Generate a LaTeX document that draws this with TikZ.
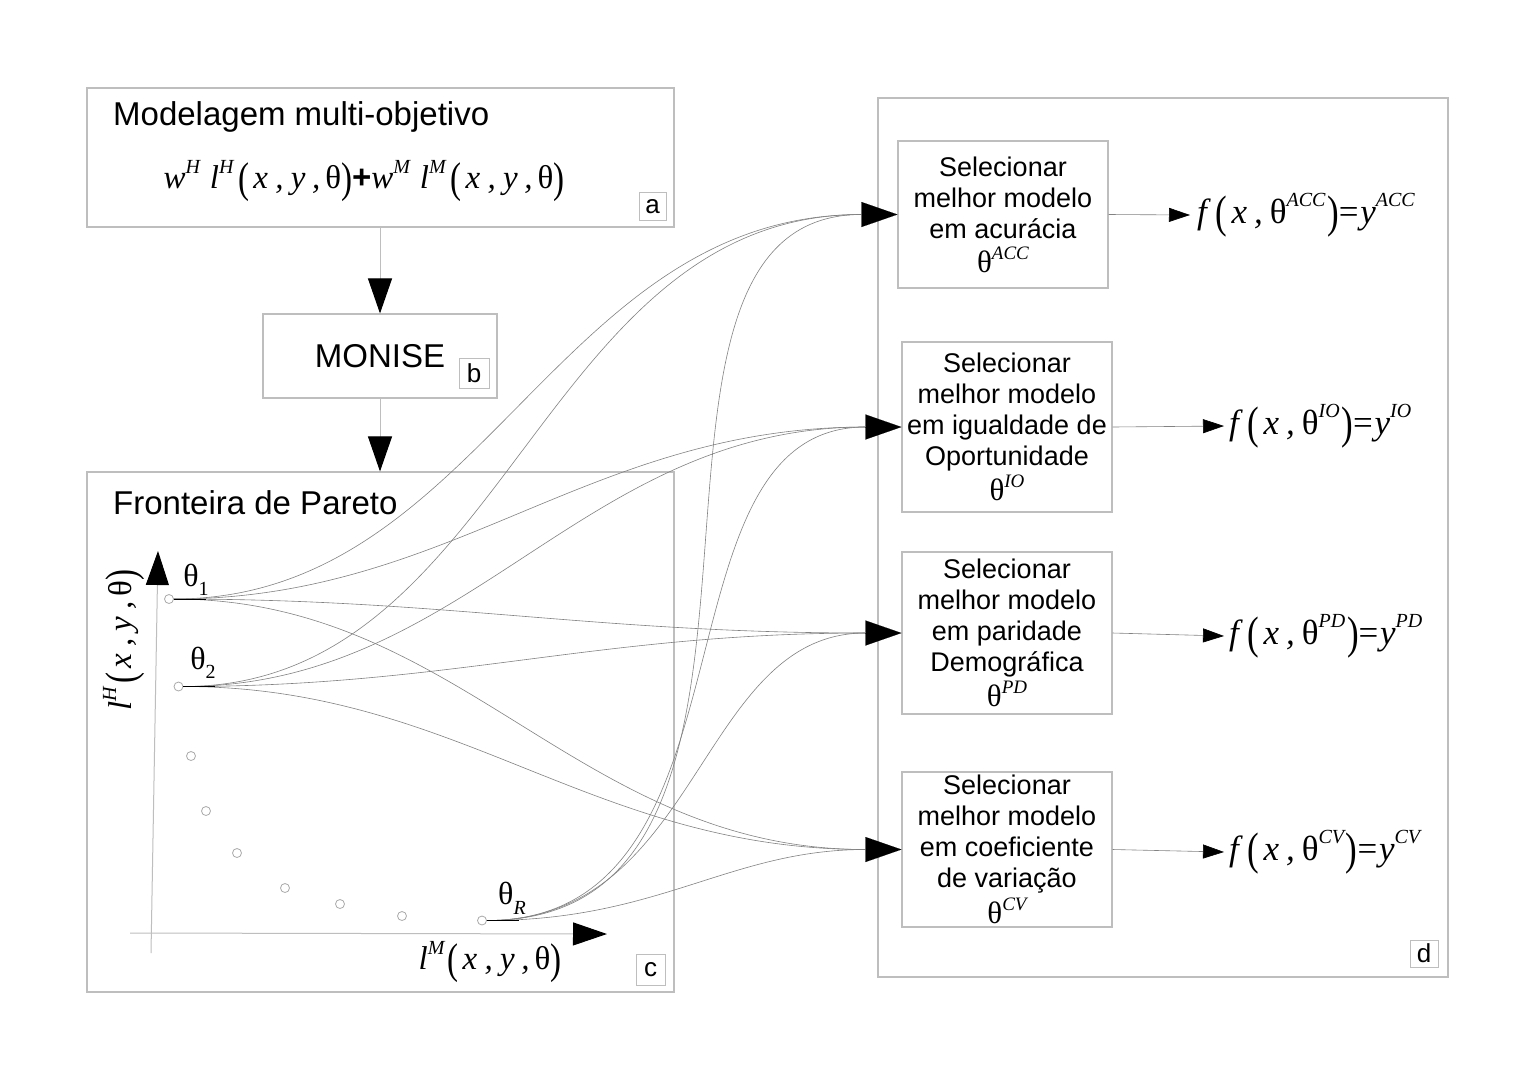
\documentclass[tikz,border=0pt]{standalone}
\usepackage{fontspec}
\setmainfont{Liberation Sans}
\newfontfamily\mf{Liberation Serif}
\usepackage{graphicx}
\usetikzlibrary{arrows.meta,calc}
\definecolor{boxgray}{RGB}{190,190,190}
\definecolor{curvegray}{RGB}{130,130,130}
\definecolor{dotgray}{RGB}{170,170,170}
\newcommand{\sps}[2][20]{\raisebox{0.48em}{\fontsize{#1}{#1}\selectfont\itshape #2}}
\newcommand{\spt}[1]{\raisebox{0.42em}{\fontsize{19}{19}\selectfont\itshape #1}}
\newcommand{\sbs}[2][20]{\raisebox{-0.3em}{\fontsize{#1}{#1}\selectfont #2}}
\newcommand{\lp}{\raisebox{-0.12em}{\scalebox{1}[1.3]{\upshape(}}}
\newcommand{\rp}{\raisebox{-0.12em}{\scalebox{1}[1.3]{\upshape)}}}
\newcommand{\thup}{{\upshape θ}}
\newcommand{\args}{\lp\kern0.12em x\kern0.22em,\kern0.22em y\kern0.2em,\kern0.15em\thup\rp}
\newcommand{\fout}[1]{{\mf\fontsize{35}{35}\selectfont\itshape f\kern0.25em\lp\kern0.12em x\kern0.2em,\kern0.2em\thup\sps{#1}\kern0.05em\rp{\upshape =}\kern0.05em y\sps{#1}}}
\newcommand{\thsel}[1]{{\mf\fontsize{31}{31}\selectfont θ\spt{#1}}}
\begin{document}
\begin{tikzpicture}[x=1pt,y=-1pt,
  box/.style={draw=boxgray, line width=1.1pt, inner sep=0pt},
  selbox/.style={box, align=center, font=\fontsize{27}{31}\selectfont},
  lbl/.style={draw=boxgray, line width=0.9pt, inner sep=0pt, font=\fontsize{26}{26}\selectfont, minimum width=27pt, minimum height=28pt},
  title/.style={anchor=west, inner sep=0pt, font=\fontsize{33}{38}\selectfont},
  curve/.style={draw=curvegray, line width=0.6pt},
  dot/.style={circle, draw=dotgray, line width=0.8pt, minimum size=9pt, inner sep=0pt},
  flow/.style={draw=boxgray, line width=1pt, -{Triangle[length=35pt,width=24pt,color=black]}},
  bighead/.style={draw=black, line width=0.1pt, -{Triangle[length=36pt,width=25pt,color=black]}},
  outarr/.style={draw=curvegray, line width=0.6pt, -{Triangle[length=21pt,width=14pt,color=black]}},
  axis/.style={draw=boxgray, line width=1pt, -{Triangle[length=34pt,width=23pt,color=black]}},
  thl/.style={inner sep=0pt, font=\mf\fontsize{32}{32}\selectfont}
]
\useasboundingbox[fill=white] (0,0) rectangle (1540,1080);

% left column boxes
\node[box, minimum width=587pt, minimum height=139pt] (A) at (380.5,157.5) {};
\node[title] (Atitle) at (113,117) {Modelagem multi-objetivo};
\node[inner sep=0pt] (Aform) at (364,181) {{\mf\fontsize{33}{33}\selectfont\itshape w\sps{H}\kern0.3em l\sps{H}\kern0.15em\args{\normalfont\bfseries +}w\sps{M}\kern0.3em l\sps{M}\kern0.15em\args}};
\node[lbl] (la) at (652.5,206.5) {a};

\node[box, minimum width=234pt, minimum height=84pt] (B) at (380,356) {};
\node[inner sep=0pt, font=\fontsize{33}{38}\selectfont] (Btxt) at (380,356) {MONISE};
\node[lbl, minimum width=30pt, minimum height=30pt] (lb) at (474,373) {b};

\node[box, minimum width=587pt, minimum height=520pt] (C) at (380.5,732) {};
\node[title] (Ctitle) at (113,503) {Fronteira de Pareto};
\node[lbl, minimum width=29pt, minimum height=31pt] (lc) at (650.5,969.5) {c};

\draw[flow] (A.south -| B.north) -- (B.north);
\draw[flow] (B.south) -- (B.south |- C.north);

% axes
\coordinate (yb) at (151,953);
\coordinate (yt) at (158,551);
\coordinate (xb) at (130,933);
\coordinate (xt) at (607,934);
\draw[axis] (yb) -- (yt);
\draw[axis] (xb) -- (xt);
\node[rotate=90, inner sep=0pt] (ylab) at (124,640) {{\mf\fontsize{33}{33}\selectfont\itshape l\sps{H}\kern0.1em\args}};
\node[inner sep=0pt] (xlab) at (490,962) {{\mf\fontsize{33}{33}\selectfont\itshape l\sps{M}\kern0.1em\args}};

% pareto points
\node[dot] (p1) at (169,599) {};
\node[dot] (p2) at (178.5,686.5) {};
\node[dot] (p3) at (191,756) {};
\node[dot] (p4) at (206,811) {};
\node[dot] (p5) at (237,853) {};
\node[dot] (p6) at (285,888) {};
\node[dot] (p7) at (340,904) {};
\node[dot] (p8) at (402,916) {};
\node[dot] (pR) at (482,920.5) {};
\node[thl] (t1) at (196,580) {θ\sbs{1}};
\node[thl] (t2) at (203,663) {θ\sbs{2}};
\node[thl] (tR) at (512,898) {θ\sbs{\itshape R}};

% right big box
\node[box, minimum width=570pt, minimum height=879pt] (D) at (1163,537.5) {};
\node[lbl, minimum width=28pt, minimum height=27pt] (ld) at (1424,953.5) {d};

\node[selbox, minimum width=210pt, minimum height=147pt] (ACC) at (1003,214.5) {Selecionar\\melhor modelo\\em acurácia\\[3pt]\thsel{ACC}};
\node[selbox, minimum width=210pt, minimum height=170pt] (IO) at (1007,427) {Selecionar\\melhor modelo\\em igualdade de\\Oportunidade\\[3pt]\thsel{IO}};
\node[selbox, minimum width=210pt, minimum height=162pt] (PD) at (1007,633) {Selecionar\\melhor modelo\\em paridade\\Demográfica\\[3pt]\thsel{PD}};
\node[selbox, minimum width=210pt, minimum height=155pt] (CV) at (1007,849.5) {Selecionar\\melhor modelo\\em coeficiente\\de variação\\[3pt]\thsel{CV}};

% outputs
\node[anchor=west, inner sep=0pt] (fACC) at (1197,215) {\fout{ACC}};
\node[anchor=west, inner sep=0pt] (fIO) at (1229,426) {\fout{IO}};
\node[anchor=west, inner sep=0pt] (fPD) at (1229,636) {\fout{PD}};
\node[anchor=west, inner sep=0pt] (fCV) at (1229,852) {\fout{CV}};
\draw[outarr] (ACC.east) -- ($(fACC.west)+(-7,0)$);
\draw[outarr] (IO.east) -- ($(fIO.west)+(-5,0)$);
\draw[outarr] (PD.east) -- ($(fPD.west)+(-5,0)$);
\draw[outarr] (CV.east) -- ($(fCV.west)+(-5,0)$);

% input arrowheads
\foreach \t in {ACC,IO,PD,CV}{
  \coordinate (in\t) at ($(\t.west)+(-36,0)$);
  \draw[bighead] (in\t) -- (\t.west);
}

% fan curves
\foreach \s in {p1,p2}{
  \foreach \t in {ACC,IO,PD,CV}{
    \draw[curve] (\s.east) to[out=0,in=180] (in\t);
  }
}
\foreach \t in {ACC,IO,PD,CV}{
  \draw[curve] (pR.east) to[out=0,in=180,out looseness=1.15,in looseness=0.9] (in\t);
}
\foreach \s in {p1,p2,pR}{
  \draw[black, line width=0.8pt] (\s.east) -- ++(32,0);
}
\end{tikzpicture}
\end{document}
